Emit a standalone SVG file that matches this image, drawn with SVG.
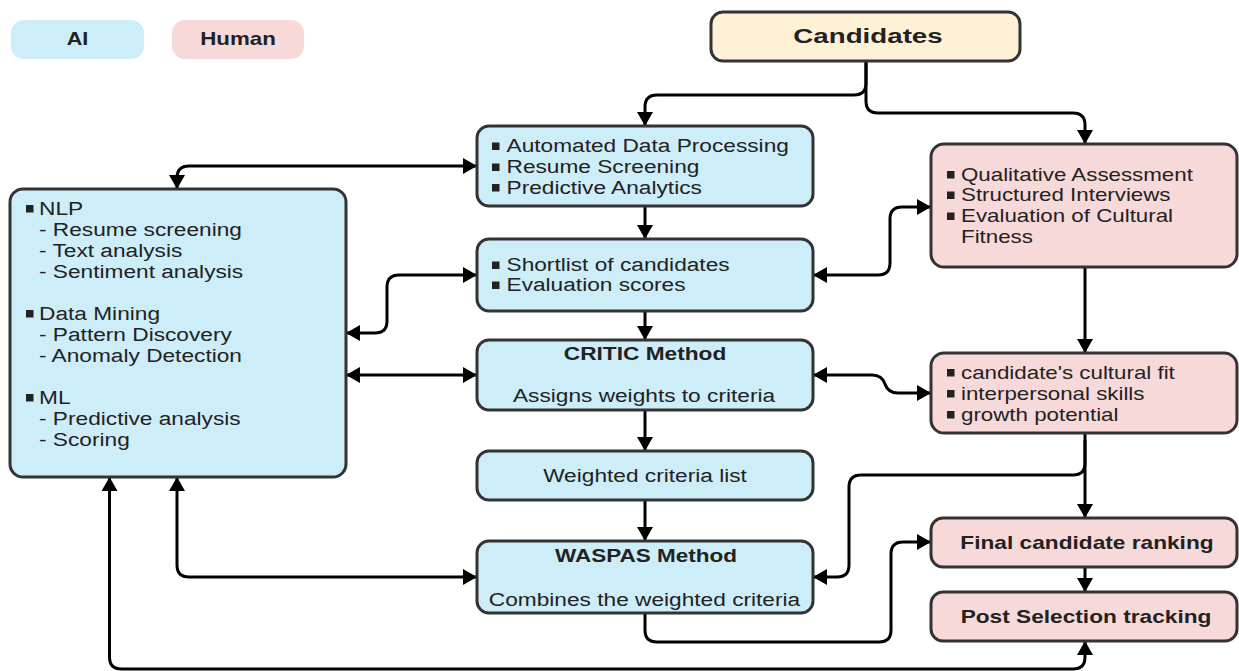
<svg xmlns="http://www.w3.org/2000/svg" width="1239" height="671" viewBox="0 0 1239 671">
<style>
.box{stroke:#333;stroke-width:3}
.ai{fill:#cdedf9}
.hu{fill:#f8d9da}
.cand{fill:#fff1d6}
.t{font-family:"Liberation Sans",Arial,sans-serif;font-size:18.6px;fill:#222}
.b{font-family:"Liberation Sans",Arial,sans-serif;font-size:18px;font-weight:bold;fill:#222}
.bul{fill:#222}
.c{fill:none;stroke:#000;stroke-width:3}
</style>
<defs>
<marker id="ah" markerUnits="userSpaceOnUse" markerWidth="16" markerHeight="16" refX="14" refY="8" orient="auto-start-reverse" viewBox="0 0 16 16">
<path d="M0,0 L14,8 L0,16 z" fill="#000"/>
</marker>
</defs>

<g id="legend-ai">
<rect x="11" y="20" width="133" height="39" rx="13" class="ai"/>
<text class="b" transform="translate(77.5,0) scale(1.2,1)" x="0" y="45.5" text-anchor="middle">AI</text>
</g>
<g id="legend-human">
<rect x="172" y="20" width="132" height="39" rx="13" class="hu"/>
<text class="b" transform="translate(238,0) scale(1.24,1)" x="0" y="45.5" text-anchor="middle">Human</text>
</g>

<g id="connectors">
<path class="c" d="M866,61 V83 Q866,95 854,95 H657 Q645,95 645,107 V126" marker-end="url(#ah)"/>
<path class="c" d="M866,61 V101 Q866,113 878,113 H1073 Q1085,113 1085,125 V144" marker-end="url(#ah)"/>
<path class="c" d="M477,166 H189 Q177,166 177,178 V189" marker-start="url(#ah)" marker-end="url(#ah)"/>
<path class="c" d="M645,206 V239" marker-end="url(#ah)"/>
<path class="c" d="M477,275 H399 Q387,275 387,287 V321 Q387,333 375,333 H346" marker-start="url(#ah)" marker-end="url(#ah)"/>
<path class="c" d="M645,311 V340" marker-end="url(#ah)"/>
<path class="c" d="M477,375 H346" marker-start="url(#ah)" marker-end="url(#ah)"/>
<path class="c" d="M645,410 V451" marker-end="url(#ah)"/>
<path class="c" d="M645,500 V541" marker-end="url(#ah)"/>
<path class="c" d="M813,275 H878 Q890,275 890,263 V219 Q890,207 902,207 H931" marker-start="url(#ah)" marker-end="url(#ah)"/>
<path class="c" d="M813,375 H872 Q882,375 885,384 Q888,393 898,393 H931" marker-start="url(#ah)" marker-end="url(#ah)"/>
<path class="c" d="M1085,267 V353" marker-end="url(#ah)"/>
<path class="c" d="M1085,433 V518" marker-end="url(#ah)"/>
<path class="c" d="M1085,440 V463 Q1085,475 1073,475 H861 Q849,475 849,487 V565 Q849,577 837,577 H813" marker-end="url(#ah)"/>
<path class="c" d="M645,613 V630 Q645,642 657,642 H879 Q891,642 891,630 V554 Q891,542 903,542 H931" marker-end="url(#ah)"/>
<path class="c" d="M1085,567 V592" marker-end="url(#ah)"/>
<path class="c" d="M177,477 V565 Q177,577 189,577 H477" marker-start="url(#ah)" marker-end="url(#ah)"/>
<path class="c" d="M109.5,477 V657 Q109.5,669 121.5,669 H1073 Q1085,669 1085,657 V641" marker-start="url(#ah)" marker-end="url(#ah)"/>
</g>

<g id="candidates">
<rect x="711" y="12" width="309" height="49" rx="12" class="box cand"/>
<text class="b" style="font-size:21px" transform="translate(868,0) scale(1.32,1)" x="0" y="43.5" text-anchor="middle">Candidates</text>
</g>

<g id="ai-techniques">
<rect x="10" y="189" width="336" height="288" rx="13" class="box ai"/>
<rect x="26" y="205" width="7.5" height="7.5" class="bul"/>
<rect x="26" y="310" width="7.5" height="7.5" class="bul"/>
<rect x="26" y="394" width="7.5" height="7.5" class="bul"/>
<g transform="translate(39,0) scale(1.22,1)">
<text class="t" x="0" y="215">NLP</text>
<text class="t" x="0" y="236">- Resume screening</text>
<text class="t" x="0" y="257">- Text analysis</text>
<text class="t" x="0" y="278">- Sentiment analysis</text>
<text class="t" x="0" y="320">Data Mining</text>
<text class="t" x="0" y="341">- Pattern Discovery</text>
<text class="t" x="0" y="362">- Anomaly Detection</text>
<text class="t" x="0" y="404">ML</text>
<text class="t" x="0" y="425">- Predictive analysis</text>
<text class="t" x="0" y="446">- Scoring</text>
</g>
</g>

<g id="automated">
<rect x="477" y="126" width="336" height="80" rx="12" class="box ai"/>
<rect x="492" y="142.5" width="7.5" height="7.5" class="bul"/>
<rect x="492" y="163.5" width="7.5" height="7.5" class="bul"/>
<rect x="492" y="184" width="7.5" height="7.5" class="bul"/>
<g transform="translate(506.5,0) scale(1.22,1)">
<text class="t" x="0" y="152.5">Automated Data Processing</text>
<text class="t" x="0" y="173.5">Resume Screening</text>
<text class="t" x="0" y="194">Predictive Analytics</text>
</g>
</g>

<g id="shortlist">
<rect x="477" y="239" width="336" height="72" rx="12" class="box ai"/>
<rect x="492" y="261.5" width="7.5" height="7.5" class="bul"/>
<rect x="492" y="281.5" width="7.5" height="7.5" class="bul"/>
<g transform="translate(506.5,0) scale(1.22,1)">
<text class="t" x="0" y="271.5">Shortlist of candidates</text>
<text class="t" x="0" y="291.5">Evaluation scores</text>
</g>
</g>

<g id="critic">
<rect x="477" y="340" width="336" height="70" rx="12" class="box ai"/>
<text class="b" transform="translate(645,0) scale(1.26,1)" x="0" y="360" text-anchor="middle">CRITIC Method</text>
<text class="t" transform="translate(644,0) scale(1.22,1)" x="0" y="402.5" text-anchor="middle">Assigns weights to criteria</text>
</g>

<g id="weighted">
<rect x="477" y="451" width="336" height="49" rx="12" class="box ai"/>
<text class="t" transform="translate(645,0) scale(1.22,1)" x="0" y="482" text-anchor="middle">Weighted criteria list</text>
</g>

<g id="waspas">
<rect x="477" y="541" width="336" height="72" rx="12" class="box ai"/>
<text class="b" transform="translate(646,0) scale(1.25,1)" x="0" y="562" text-anchor="middle">WASPAS Method</text>
<text class="t" transform="translate(644.5,0) scale(1.22,1)" x="0" y="606" text-anchor="middle">Combines the weighted criteria</text>
</g>

<g id="qualitative">
<rect x="931" y="144" width="306" height="123" rx="13" class="box hu"/>
<rect x="947" y="171" width="7.5" height="7.5" class="bul"/>
<rect x="947" y="191.5" width="7.5" height="7.5" class="bul"/>
<rect x="947" y="212.5" width="7.5" height="7.5" class="bul"/>
<g transform="translate(961,0) scale(1.2,1)">
<text class="t" x="0" y="181">Qualitative Assessment</text>
<text class="t" x="0" y="201.5">Structured Interviews</text>
<text class="t" x="0" y="222.5">Evaluation of Cultural</text>
<text class="t" x="0" y="243.5">Fitness</text>
</g>
</g>

<g id="cultural">
<rect x="931" y="353" width="306" height="80" rx="13" class="box hu"/>
<rect x="947" y="369" width="7.5" height="7.5" class="bul"/>
<rect x="947" y="390" width="7.5" height="7.5" class="bul"/>
<rect x="947" y="411" width="7.5" height="7.5" class="bul"/>
<g transform="translate(961,0) scale(1.2,1)">
<text class="t" x="0" y="379">candidate's cultural fit</text>
<text class="t" x="0" y="400">interpersonal skills</text>
<text class="t" x="0" y="421">growth potential</text>
</g>
</g>

<g id="final-ranking">
<rect x="931" y="518" width="306" height="49" rx="12" class="box hu"/>
<text class="b" transform="translate(1087,0) scale(1.26,1)" x="0" y="549.5" text-anchor="middle">Final candidate ranking</text>
</g>

<g id="post-selection">
<rect x="931" y="592" width="306" height="49" rx="12" class="box hu"/>
<text class="b" transform="translate(1086,0) scale(1.26,1)" x="0" y="623.5" text-anchor="middle">Post Selection tracking</text>
</g>
</svg>
